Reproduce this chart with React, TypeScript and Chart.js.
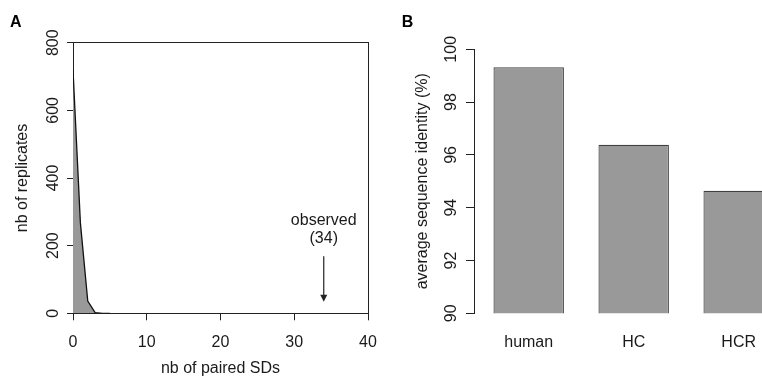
import React, { useEffect, useRef } from "react";
import { Chart, registerables } from "chart.js";

Chart.register(...registerables);

// ---------- Panel A data ----------
const pairedSDs = [0, 1, 2, 3, 4, 5];
const replicateCounts = [720, 268, 36, 2, 0, 0];
const xTicksA = [0, 10, 20, 30, 40];
const yTicksA = [0, 200, 400, 600, 800];
const observedValue = 34;
const observedLabel = ["observed", "(34)"];
const observedTextY = [261, 207];
const arrowFromY = 169;
const arrowToY = 34;

// ---------- Panel B data ----------
const species = ["human", "HC", "HCR"];
const identity = [99.32, 96.38, 94.64];
const yTicksB = [90, 92, 94, 96, 98, 100];

const FAMILY = "'Liberation Sans', Arial, Helvetica, sans-serif";
const TEXT = "#1a1a1a";
const LINE = "#222";
const GREY = "#999999";

Chart.defaults.font.family = FAMILY;
Chart.defaults.font.size = 16;
Chart.defaults.color = TEXT;

const observedPlugin = {
  id: "observedArrow",
  afterDatasetsDraw(chart: any) {
    const { ctx, scales } = chart;
    const x = scales.x;
    const y = scales.y;
    const px = x.getPixelForValue(observedValue);
    ctx.save();
    ctx.fillStyle = TEXT;
    ctx.font = `16px ${FAMILY}`;
    ctx.textAlign = "center";
    ctx.textBaseline = "alphabetic";
    ctx.fillText(observedLabel[0], px, y.getPixelForValue(observedTextY[0]));
    ctx.fillText(observedLabel[1], px, y.getPixelForValue(observedTextY[1]));
    const y0 = y.getPixelForValue(arrowFromY);
    const y1 = y.getPixelForValue(arrowToY);
    ctx.strokeStyle = LINE;
    ctx.lineWidth = 1.2;
    ctx.beginPath();
    ctx.moveTo(px, y0);
    ctx.lineTo(px, y1 - 6);
    ctx.stroke();
    ctx.fillStyle = LINE;
    ctx.beginPath();
    ctx.moveTo(px - 3.5, y1 - 7);
    ctx.lineTo(px + 3.5, y1 - 7);
    ctx.lineTo(px, y1);
    ctx.closePath();
    ctx.fill();
    ctx.restore();
  },
};

function configA(): any {
  return {
    type: "line",
    data: {
      datasets: [
        {
          data: pairedSDs.map((x, i) => ({ x, y: replicateCounts[i] })),
          borderColor: "#111",
          borderWidth: 1.3,
          backgroundColor: GREY,
          fill: "origin",
          pointRadius: 0,
          tension: 0,
        },
      ],
    },
    options: {
      animation: false,
      responsive: false,
      devicePixelRatio: 1,
      layout: { padding: { left: 10, right: 24, top: 0, bottom: 0 } },
      plugins: {
        legend: { display: false },
        tooltip: { enabled: false },
        title: {
          display: true,
          text: "A",
          align: "start",
          color: "#000",
          font: { size: 16, weight: "bold", family: FAMILY },
          padding: { top: 12.8, bottom: 10.7 },
        },
      },
      scales: {
        x: {
          type: "linear",
          min: 0,
          max: 40,
          afterBuildTicks: (s: any) => {
            s.ticks = xTicksA.map((v) => ({ value: v }));
          },
          ticks: { padding: 12.8, maxRotation: 0, autoSkip: false, color: TEXT },
          grid: { drawOnChartArea: false, tickLength: 7, color: LINE, tickColor: LINE },
          border: { color: LINE, width: 1 },
          title: {
            display: true,
            text: "nb of paired SDs",
            color: TEXT,
            padding: { top: 0, bottom: 1.4 },
          },
          afterFit: (s: any) => {
            s.height = 66.7;
          },
        },
        y: {
          type: "linear",
          min: 0,
          max: 800,
          afterBuildTicks: (s: any) => {
            s.ticks = yTicksA.map((v) => ({ value: v }));
          },
          ticks: { minRotation: 90, maxRotation: 90, crossAlign: "center", padding: 0, color: TEXT },
          grid: { drawOnChartArea: false, tickLength: 6, color: LINE, tickColor: LINE },
          border: { color: LINE, width: 1 },
          title: {
            display: true,
            text: "nb of replicates",
            color: TEXT,
            padding: { top: 3.2, bottom: 0 },
          },
          afterFit: (s: any) => {
            s.width = 63;
          },
        },
        xTop: {
          type: "linear",
          position: "top",
          display: true,
          ticks: { display: false },
          grid: { display: false, drawTicks: false },
          border: { display: true, color: LINE, width: 1 },
          afterFit: (s: any) => {
            s.height = 0;
          },
        },
        yRight: {
          type: "linear",
          position: "right",
          display: true,
          ticks: { display: false },
          grid: { display: false, drawTicks: false },
          border: { display: true, color: LINE, width: 1 },
          afterFit: (s: any) => {
            s.width = 0;
          },
        },
      },
    },
    plugins: [observedPlugin],
  };
}

function configB(): any {
  return {
    type: "bar",
    data: {
      datasets: [
        {
          data: species.map((_, i) => ({ x: i, y: identity[i] })),
          backgroundColor: GREY,
          borderColor: "#404040",
          borderWidth: 1.2,
          borderSkipped: false,
          categoryPercentage: 1,
          barPercentage: 0.671,
        },
      ],
    },
    options: {
      animation: false,
      responsive: false,
      devicePixelRatio: 1,
      layout: { padding: { left: 21.7, right: 0, top: 0, bottom: 0 } },
      plugins: {
        legend: { display: false },
        tooltip: { enabled: false },
        title: {
          display: true,
          text: "B",
          align: "start",
          color: "#000",
          font: { size: 16, weight: "bold", family: FAMILY },
          padding: { top: 12.8, bottom: 17.3 },
        },
      },
      scales: {
        x: {
          type: "linear",
          min: -0.521,
          max: 2.965,
          offset: false,
          afterBuildTicks: (s: any) => {
            s.ticks = species.map((_, i) => ({ value: i }));
          },
          ticks: {
            callback: (v: any) => species[v],
            padding: 19.8,
            maxRotation: 0,
            autoSkip: false,
            color: TEXT,
          },
          grid: { display: false, drawTicks: false },
          border: { display: false },
          afterFit: (s: any) => {
            s.height = 66.7;
          },
        },
        y: {
          type: "linear",
          min: 90,
          max: 100,
          afterBuildTicks: (s: any) => {
            s.ticks = yTicksB.map((v) => ({ value: v }));
          },
          ticks: { minRotation: 90, maxRotation: 90, crossAlign: "center", padding: 1.5, color: TEXT },
          grid: { drawOnChartArea: false, tickLength: 8, color: LINE, tickColor: LINE },
          border: { color: LINE, width: 1 },
          title: {
            display: true,
            text: "average sequence identity (%)",
            color: TEXT,
            padding: { top: 11.5, bottom: 0 },
          },
          afterFit: (s: any) => {
            s.width = 72.3;
          },
        },
      },
    },
  };
}

export default function App() {
  const refA = useRef<HTMLCanvasElement>(null);
  const refB = useRef<HTMLCanvasElement>(null);
  useEffect(() => {
    const a = new Chart(refA.current as HTMLCanvasElement, configA());
    const b = new Chart(refB.current as HTMLCanvasElement, configB());
    return () => {
      a.destroy();
      b.destroy();
    };
  }, []);
  return (
    <div
      style={{
        position: "absolute",
        left: 0,
        top: 0,
        width: 762,
        height: 380,
        overflow: "hidden",
        background: "#fff",
      }}
    >
      <canvas ref={refA} width={392} height={380} style={{ position: "absolute", left: 0, top: 0 }} />
      <canvas ref={refB} width={460} height={380} style={{ position: "absolute", left: 380, top: 0 }} />
    </div>
  );
}
